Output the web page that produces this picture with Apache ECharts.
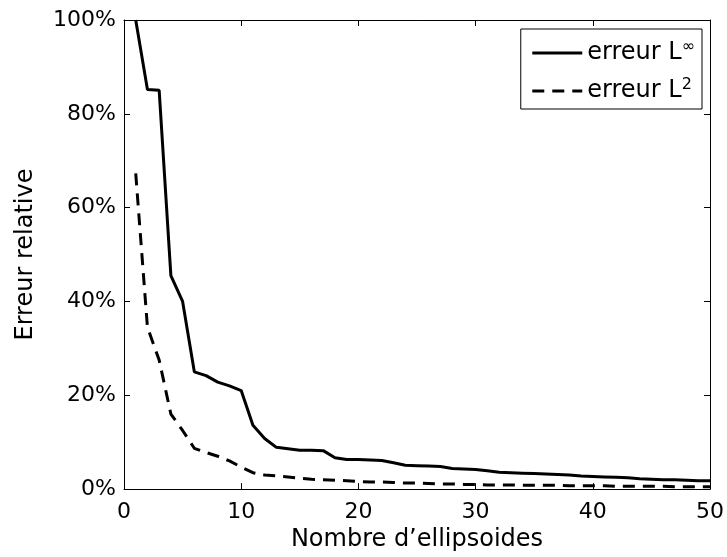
<!DOCTYPE html>
<html>
<head>
<meta charset="utf-8">
<script src="https://cdn.jsdelivr.net/npm/echarts@6/dist/echarts.min.js"></script>
<style>
  html, body { margin: 0; padding: 0; background: #fff; }
  #main { width: 727px; height: 557px; }
</style>
</head>
<body>
<div id="main"></div>
<script>
// erreur relative (%) selon le nombre d'ellipsoides (1..50)
var erreurLinf = [100, 85.2, 85.0, 45.5, 40.0, 25.0, 24.2, 22.8, 22.0, 21.0,
  13.6, 10.8, 8.9, 8.6, 8.3, 8.3, 8.2, 6.7, 6.3, 6.3,
  6.2, 6.1, 5.6, 5.1, 5.0, 4.9, 4.8, 4.4, 4.3, 4.2,
  3.9, 3.6, 3.5, 3.4, 3.3, 3.2, 3.1, 3.0, 2.8, 2.7,
  2.6, 2.5, 2.4, 2.2, 2.1, 2.0, 2.0, 1.9, 1.8, 1.8];
var erreurL2 = [67.3, 34.5, 27.5, 16.0, 12.5, 8.7, 7.8, 7.0, 6.0, 4.7,
  3.5, 3.0, 2.8, 2.6, 2.3, 2.1, 2.0, 1.9, 1.8, 1.6,
  1.5, 1.5, 1.4, 1.3, 1.3, 1.2, 1.1, 1.1, 1.0, 1.0,
  0.9, 0.9, 0.9, 0.8, 0.8, 0.8, 0.8, 0.7, 0.7, 0.7,
  0.7, 0.6, 0.6, 0.6, 0.6, 0.6, 0.5, 0.5, 0.5, 0.5];
var nomsSeries = ['erreur L∞', 'erreur L²'];

var police = 'DejaVu Sans, Liberation Sans, Arial, sans-serif';

function points(vals) {
  return vals.map(function (v, i) { return [i + 1, v]; });
}

var myChart = echarts.init(document.getElementById('main'));

var axeBase = {
  axisLine: { show: true, onZero: false, lineStyle: { color: '#000', width: 1 } },
  axisTick: { show: true, inside: true, length: 6, lineStyle: { color: '#000' } },
  splitLine: { show: false }
};

var option = {
  animation: false,
  backgroundColor: '#fff',
  grid: { left: 124, top: 20, right: 16, bottom: 65 },
  legend: {
    orient: 'vertical',
    right: 25,
    top: 29,
    itemWidth: 50,
    itemHeight: 20,
    itemGap: 12,
    padding: [10, 7, 6, 10],
    borderColor: '#000',
    borderWidth: 1,
    backgroundColor: '#fff',
    itemStyle: { opacity: 0 },
    lineStyle: { width: 3 },
    data: nomsSeries,
    formatter: function (name) {
      return name === nomsSeries[0] ? 'erreur L{s|∞}' : 'erreur L{s|2}';
    },
    textStyle: {
      fontFamily: police, fontSize: 24, color: '#000',
      rich: { s: { fontFamily: police, fontSize: 16, color: '#000', verticalAlign: 'top', padding: [0, 0, 12, 0] } }
    }
  },
  xAxis: [
    Object.assign({
      type: 'value', min: 0, max: 50, interval: 10, position: 'bottom',
      name: 'Nombre d’ellipsoides', nameLocation: 'middle', nameGap: 31,
      nameTextStyle: { fontFamily: police, fontSize: 24, color: '#000' },
      axisLabel: { fontFamily: police, fontSize: 22, color: '#000', margin: 12 }
    }, axeBase),
    Object.assign({
      type: 'value', min: 0, max: 50, interval: 10, position: 'top',
      axisLabel: { show: false }
    }, axeBase)
  ],
  yAxis: [
    Object.assign({
      type: 'value', min: 0, max: 100, interval: 20, position: 'left',
      name: 'Erreur relative', nameLocation: 'middle', nameGap: 86,
      nameTextStyle: { fontFamily: police, fontSize: 24, color: '#000' },
      axisLabel: { fontFamily: police, fontSize: 22, color: '#000', margin: 8, formatter: '{value}%' }
    }, axeBase),
    Object.assign({
      type: 'value', min: 0, max: 100, interval: 20, position: 'right',
      axisLabel: { show: false }
    }, axeBase)
  ],
  series: [
    {
      name: nomsSeries[0], type: 'line', data: points(erreurLinf),
      symbol: 'none', color: '#000',
      lineStyle: { color: '#000', width: 3, type: 'solid' }
    },
    {
      name: nomsSeries[1], type: 'line', data: points(erreurL2),
      symbol: 'none', color: '#000',
      lineStyle: { color: '#000', width: 3, type: [12, 8] }
    }
  ]
};

myChart.setOption(option);
</script>
</body>
</html>
